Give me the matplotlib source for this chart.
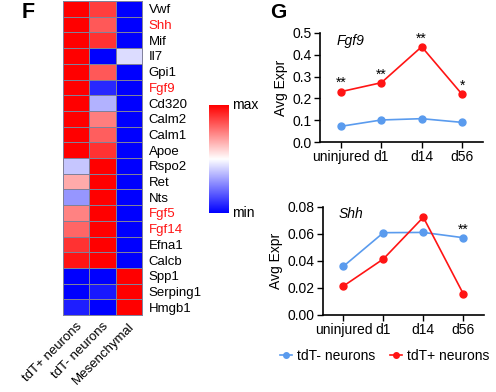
import numpy as np
import matplotlib
matplotlib.use("Agg")
import matplotlib.pyplot as plt
from matplotlib.colors import LinearSegmentedColormap
from matplotlib.lines import Line2D

plt.rcParams['font.family'] = ['Liberation Sans', 'DejaVu Sans']

# ---- Heatmap data ----
genes = ["Vwf", "Shh", "Mif", "Il7", "Gpi1", "Fgf9", "Cd320", "Calm2", "Calm1", "Apoe",
         "Rspo2", "Ret", "Nts", "Fgf5", "Fgf14", "Efna1", "Calcb", "Spp1", "Serping1", "Hmgb1"]
red_genes = ["Shh", "Fgf9", "Fgf5", "Fgf14"]
cell_types = ["tdT+ neurons", "tdT- neurons", "Mesenchymal"]
tdt_pos = [1.0, 1.0, 1.0, 1.0, 1.0, 1.0, 1.0, 1.0, 1.0, 1.0,
           -0.22, 0.33, -0.41, 0.49, 0.6, 0.8, 0.92, -1.0, -1.0, -0.88]
tdt_neg = [0.75, 0.65, 0.8, -1.0, 0.65, -0.84, -0.3, 0.5, 0.63, 0.8,
           1.0, 1.0, 1.0, 1.0, 1.0, 1.0, 1.0, -1.0, -0.9, -1.0]
mesench = [-1.0, -1.0, -1.0, -0.14, -1.0, -1.0, -1.0, -1.0, -1.0, -1.0,
           -1.0, -1.0, -1.0, -1.0, -1.0, -1.0, -1.0, 1.0, 1.0, 1.0]

# ---- Line chart data ----
timepoints = ["uninjured", "d1", "d14", "d56"]
fgf9_neg = [0.072, 0.101, 0.107, 0.090]
fgf9_pos = [0.231, 0.272, 0.437, 0.219]
fgf9_sig = ["**", "**", "**", "*"]
shh_neg = [0.036, 0.0608, 0.061, 0.0571]
shh_pos = [0.0214, 0.0414, 0.0722, 0.0157]
shh_sig = ["", "", "", "**"]

RED = "#FF1414"
BLUE = "#5A9BEE"
W, H = 496, 392

fig = plt.figure(figsize=(W / 100, H / 100), dpi=100)

def ax_px(l, t, r, b):
    return fig.add_axes([l / W, 1 - b / H, (r - l) / W, (b - t) / H])

cmap = LinearSegmentedColormap.from_list("bwr2", ["#0000FF", "#FFFFFF", "#FF0000"])

# Heatmap
axh = ax_px(63.3, 1, 141.7, 315)
mat = np.array([tdt_pos, tdt_neg, mesench]).T
axh.pcolormesh(mat, cmap=cmap, vmin=-1, vmax=1, edgecolors="#80809a", linewidth=0.7)
axh.set_xlim(0, 3)
axh.set_ylim(len(genes), 0)
axh.set_yticks(np.arange(len(genes)) + 0.5)
axh.set_yticklabels(genes, fontsize=9.5)
axh.yaxis.tick_right()
axh.tick_params(axis="y", length=0, pad=5)
for lab in axh.get_yticklabels():
    if lab.get_text() in red_genes:
        lab.set_color(RED)
axh.set_xticks(np.arange(3) + 0.5)
axh.set_xticklabels(cell_types, fontsize=9.5, rotation=45, ha="right", rotation_mode="anchor")
axh.tick_params(axis="x", length=0, pad=4)
for s in axh.spines.values():
    s.set_color("#80809a")
    s.set_linewidth(0.7)

# Colorbar
axc = ax_px(209, 105, 228, 213)
grad = np.linspace(1, -1, 256).reshape(-1, 1)
axc.imshow(grad, cmap=cmap, vmin=-1, vmax=1, aspect="auto", extent=[0, 1, 0, 1])
axc.set_xticks([])
axc.set_yticks([])
for s in axc.spines.values():
    s.set_visible(False)
axc.text(1.2, 1.0, "max", transform=axc.transAxes, fontsize=10, va="center", ha="left")
axc.text(1.2, 0.0, "min", transform=axc.transAxes, fontsize=10, va="center", ha="left")

fig.text(28 / W, 1 - 12.5 / H, "F", fontsize=15.5, fontweight="bold", ha="center", va="center")
fig.text(278 / W, 1 - 12.5 / H, "G", fontsize=15, fontweight="bold", ha="center", va="center")

def line_panel(ax, neg, pos, sig, ymax, step, fmt, gene):
    x = np.arange(len(timepoints))
    ax.plot(x, neg, color=BLUE, marker="o", markersize=5, linewidth=1.2)
    ax.plot(x, pos, color=RED, marker="o", markersize=5, linewidth=1.2)
    for xi, yi, yj, s in zip(x, pos, neg, sig):
        if s:
            ax.annotate(s, (xi, max(yi, yj)), xytext=(0, 1), textcoords="offset points",
                        ha="center", va="bottom", fontsize=10)
    ax.set_xlim(-0.52, 3.52)
    ax.set_ylim(0, ymax)
    ax.set_yticks(np.arange(0, ymax + step / 2, step))
    ax.yaxis.set_major_formatter(matplotlib.ticker.FormatStrFormatter(fmt))
    ax.set_xticks(x)
    ax.set_xticklabels(timepoints)
    ax.tick_params(labelsize=10, length=4, width=1.0, direction="out", pad=2)
    for s in ["top", "right"]:
        ax.spines[s].set_visible(False)
    for s in ["left", "bottom"]:
        ax.spines[s].set_linewidth(1.2)
    ax.set_ylabel("Avg Expr", fontsize=10, labelpad=3)
    ax.text(0.1, 0.93, gene, transform=ax.transAxes, fontsize=10, style="italic",
            ha="left", va="center")

ax1 = ax_px(320, 33, 483, 142)
line_panel(ax1, fgf9_neg, fgf9_pos, fgf9_sig, 0.5, 0.1, "%.1f", "Fgf9")
ax2 = ax_px(322.7, 206.7, 484, 315)
line_panel(ax2, shh_neg, shh_pos, shh_sig, 0.08, 0.02, "%.2f", "Shh")

handles = [Line2D([], [], color=BLUE, marker="o", markersize=4, linewidth=1.2),
           Line2D([], [], color=RED, marker="o", markersize=4, linewidth=1.2)]
fig.legend(handles, ["tdT- neurons", "tdT+ neurons"], loc="center left",
           bbox_to_anchor=(280 / W, 1 - 356 / H), ncol=2, frameon=False, fontsize=10,
           handlelength=0.86, handletextpad=0.36, columnspacing=1.1,
           borderpad=0, borderaxespad=0)

fig.savefig("out.png", dpi=100)
